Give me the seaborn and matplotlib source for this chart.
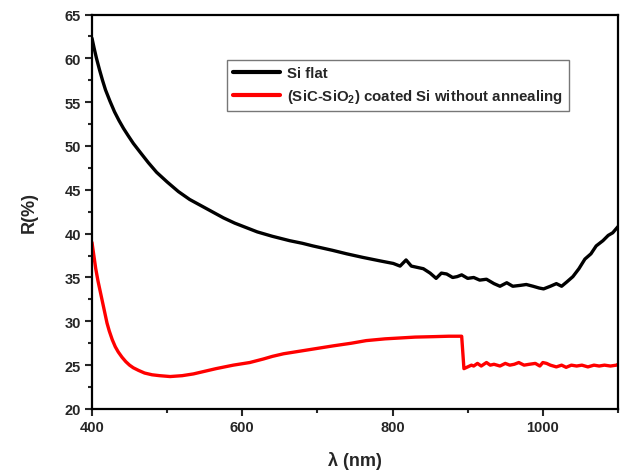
import numpy as np
import pandas as pd
import matplotlib
matplotlib.use("Agg")
import matplotlib.pyplot as plt
import seaborn as sns
from matplotlib.ticker import MultipleLocator

# Données
wl_flat = [400, 403, 406, 410, 414, 418, 424, 430, 436, 442, 448, 455, 464, 475,
           486, 500, 515, 530, 545, 560, 575, 590, 605, 620, 640, 663, 680, 694,
           720, 739, 760, 783, 801, 810, 818, 825, 841, 850, 858, 865, 872, 880,
           886, 892, 900, 908, 916, 925, 935, 943, 952, 960, 970, 978, 987, 995,
           1001, 1010, 1018, 1025, 1032, 1040, 1048, 1056, 1064, 1071, 1080, 1087,
           1093, 1098, 1100]
r_flat = [62.3, 61.1, 60.0, 58.7, 57.5, 56.4, 55.1, 53.9, 52.9, 52.0, 51.2, 50.3,
          49.3, 48.1, 47.0, 45.9, 44.8, 43.9, 43.2, 42.5, 41.8, 41.2, 40.7, 40.2,
          39.7, 39.2, 38.9, 38.6, 38.1, 37.7, 37.3, 36.9, 36.6, 36.3, 37.0, 36.3,
          36.0, 35.5, 34.9, 35.5, 35.4, 35.0, 35.1, 35.3, 34.9, 35.0, 34.7, 34.8,
          34.3, 34.0, 34.4, 34.0, 34.1, 34.2, 34.0, 33.8, 33.7, 34.0, 34.3, 34.0,
          34.5, 35.1, 36.0, 37.1, 37.7, 38.6, 39.2, 39.8, 40.1, 40.6, 40.8]

wl_coat = [400, 402, 405, 408, 411, 414, 417, 420, 423, 427, 431, 435, 440, 445,
           450, 455, 462, 470, 480, 490, 504, 520, 535, 550, 565, 588, 610, 628,
           640, 655, 677, 699, 721, 745, 765, 790, 810, 830, 854, 875, 892, 895,
           900, 905, 908, 913, 918, 925, 930, 935, 943, 950, 956, 962, 968, 975,
           982, 990, 996, 1000, 1005, 1010, 1018, 1025, 1031, 1038, 1045, 1052,
           1060, 1068, 1075, 1082, 1090, 1098, 1100]
r_coat = [39.0, 37.8, 36.0, 34.6, 33.4, 32.2, 31.0, 29.8, 28.9, 27.9, 27.1, 26.5,
          25.9, 25.4, 25.0, 24.7, 24.4, 24.1, 23.9, 23.8, 23.7, 23.8, 24.0, 24.3,
          24.6, 25.0, 25.3, 25.7, 26.0, 26.3, 26.6, 26.9, 27.2, 27.5, 27.8, 28.0,
          28.1, 28.2, 28.25, 28.3, 28.3, 24.6, 24.8, 25.0, 24.9, 25.2, 24.9, 25.3,
          25.0, 25.1, 24.9, 25.2, 25.0, 25.1, 25.3, 25.0, 25.1, 25.2, 24.9, 25.3,
          25.2, 25.0, 24.8, 25.0, 24.75, 25.0, 24.9, 25.0, 24.8, 25.0, 24.9, 25.0,
          24.9, 25.0, 25.1]

label_flat = "Si flat"
label_coat = r"(SiC-SiO$_\mathbf{2}$) coated Si without annealing"

sns.set_style("ticks")
plt.rcParams["font.family"] = ["Liberation Sans", "DejaVu Sans"]
plt.rcParams["font.weight"] = "bold"
plt.rcParams["mathtext.fontset"] = "custom"
plt.rcParams["mathtext.rm"] = "Liberation Sans:bold"
plt.rcParams["mathtext.bf"] = "Liberation Sans:bold"

df_flat = pd.DataFrame({"wl": wl_flat, "R": r_flat})
df_coat = pd.DataFrame({"wl": wl_coat, "R": r_coat})

fig = plt.figure(figsize=(6.27, 4.77), dpi=100)
ax = fig.add_axes([0.1467, 0.1405, 0.8389, 0.827])

sns.lineplot(data=df_flat, x="wl", y="R", ax=ax, color="black", lw=2.4,
             sort=False, label=label_flat)
sns.lineplot(data=df_coat, x="wl", y="R", ax=ax, color="#ff0000", lw=2.4,
             sort=False, label=label_coat)

ax.set_xlim(400, 1100)
ax.set_ylim(20, 65)
ax.xaxis.set_major_locator(MultipleLocator(200))
ax.xaxis.set_minor_locator(MultipleLocator(100))
ax.yaxis.set_major_locator(MultipleLocator(5))
ax.yaxis.set_minor_locator(MultipleLocator(2.5))
ax.tick_params(which="major", direction="out", length=5, width=1.5,
               labelsize=10.5, pad=3)
ax.tick_params(which="minor", direction="out", length=3, width=1.5)
ax.tick_params(top=False, right=False, which="both")
for lab in ax.get_xticklabels() + ax.get_yticklabels():
    lab.set_fontweight("bold")
for sp in ax.spines.values():
    sp.set_visible(True)
    sp.set_linewidth(1.6)
    sp.set_color("black")

ax.set_xlabel("λ (nm)", fontsize=13, fontweight="bold", labelpad=12)
ax.set_ylabel("R(%)", fontsize=13, fontweight="bold", labelpad=19)

leg = ax.legend(loc="upper left", bbox_to_anchor=(0.257, 0.885),
                borderaxespad=0, fancybox=False, frameon=True,
                edgecolor="#555555", handlelength=3.1, handletextpad=0.5,
                prop={"weight": "bold", "size": 10.8})
leg.get_frame().set_linewidth(1.0)
for line in leg.get_lines():
    line.set_linewidth(3)

fig.savefig("out.png", dpi=100)
